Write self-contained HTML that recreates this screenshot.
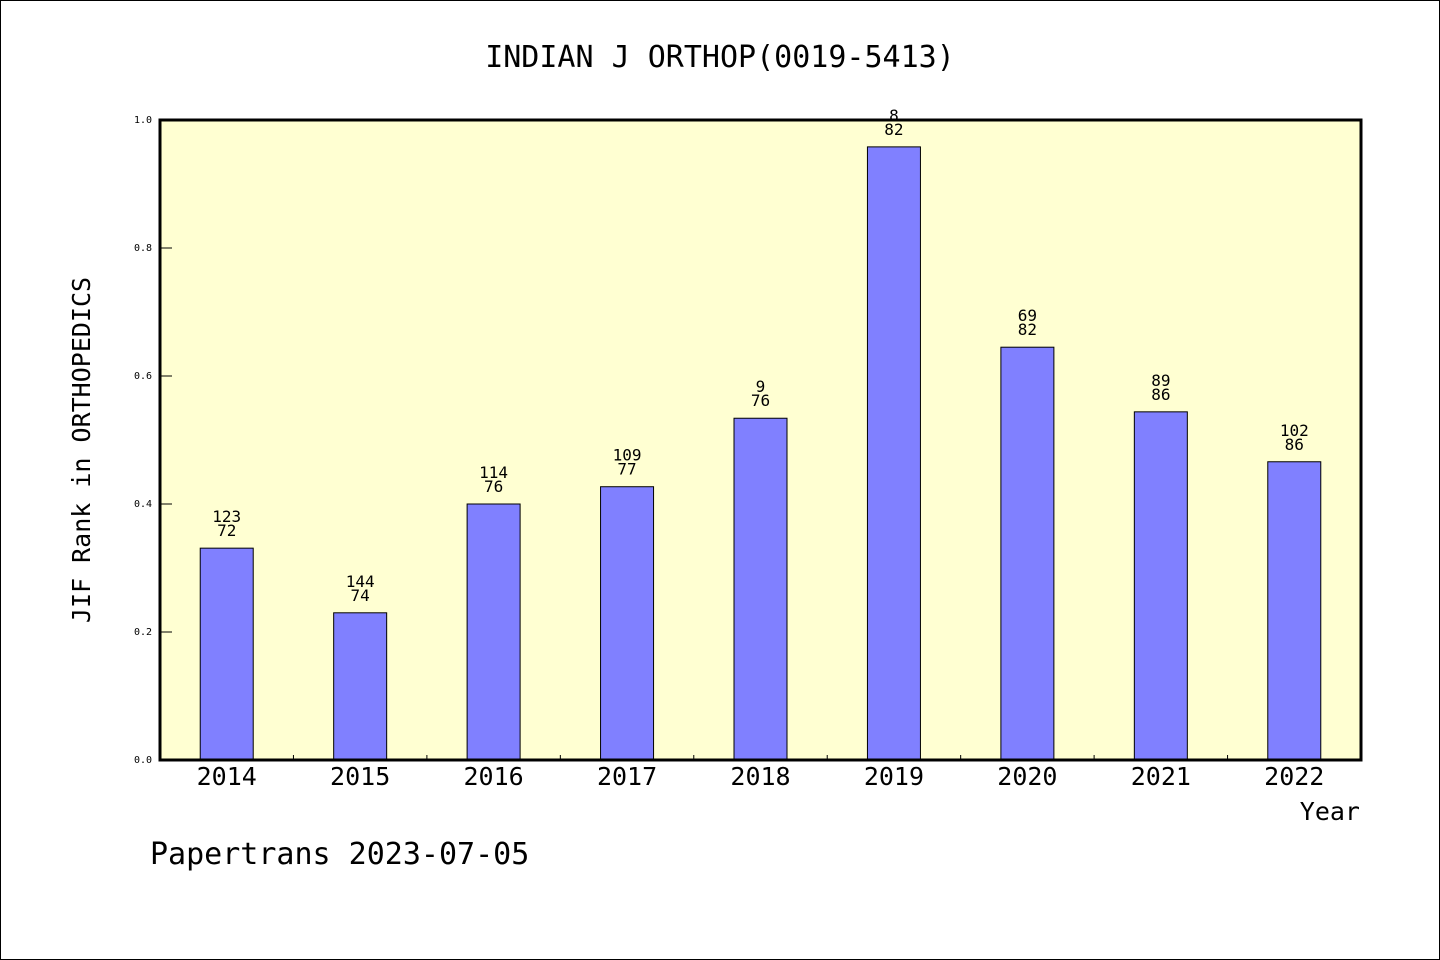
<!DOCTYPE html>
<html><head><meta charset="utf-8"><style>
body{margin:0;background:#fff}
svg{display:block}
text{font-family:"WenQuanYi Zen Hei","DejaVu Sans Mono",monospace;fill:#000}
</style></head><body>
<svg id="chart" width="1440" height="960">
<rect x="0.5" y="0.5" width="1439" height="959" fill="#fff" stroke="#000"/>
<text x="720" y="67" font-size="30" text-anchor="middle">INDIAN J ORTHOP(0019-5413)</text>
<rect x="160" y="120" width="1201" height="640" fill="#ffffd2"/>
<g id="bars"></g>
<g id="ticks"></g>
<rect x="160" y="120" width="1201" height="640" fill="none" stroke="#000" stroke-width="3"/>
<text transform="translate(90,450) rotate(-90)" font-size="25" text-anchor="middle">JIF Rank in ORTHOPEDICS</text>
<text x="1360" y="820" font-size="25" text-anchor="end">Year</text>
<text x="150" y="864" font-size="30">Papertrans 2023-07-05</text>
</svg>
<script>
const categories=["2014","2015","2016","2017","2018","2019","2020","2021","2022"];
const values=[0.331,0.23,0.4,0.427,0.534,0.958,0.645,0.544,0.466];
const topLabels=["123","144","114","109","9","8","69","89","102"];
const bottomLabels=["72","74","76","77","76","82","82","86","86"];
const yTicks=[0,0.2,0.4,0.6,0.8,1.0];
const X0=160,X1=1361,Y0=760,Y1=120;
const band=(X1-X0)/categories.length;
const xc=i=>X0+band*(i+0.5);
const y=v=>Y0-(Y0-Y1)*v;
const NS="http://www.w3.org/2000/svg";
function mk(tag,attrs,parent){const e=document.createElementNS(NS,tag);for(const k in attrs)e.setAttribute(k,attrs[k]);parent.appendChild(e);return e;}
const bars=document.getElementById('bars'),ticks=document.getElementById('ticks');
categories.forEach((c,i)=>{
 const r=mk('rect',{x:xc(i)-26.5,y:y(values[i]),width:53,height:Y0-y(values[i]),fill:'#8080ff',stroke:'#000','stroke-width':1},bars);
 
 
 const t1=mk('text',{x:xc(i),y:y(values[i])-26,'font-size':16,'text-anchor':'middle'},bars);t1.textContent=topLabels[i];
 
 
 const t2=mk('text',{x:xc(i),y:y(values[i])-12,'font-size':16,'text-anchor':'middle'},bars);t2.textContent=bottomLabels[i];
 
 
 const xl=mk('text',{x:xc(i),y:785,'font-size':25,'text-anchor':'middle'},ticks);xl.textContent=c;
 
 
 if(i>0){const l=mk('line',{x1:X0+band*i,x2:X0+band*i,y1:Y0,y2:Y0-5,stroke:'#000'},ticks);
 
 }
});
yTicks.forEach(v=>{
 const l=mk('line',{x1:X0,x2:X0+12,y1:y(v),y2:y(v),stroke:'#000'},ticks);
 
 
 const t=mk('text',{x:X0-8,y:y(v)+3,'font-size':10,'text-anchor':'end'},ticks);t.textContent=v.toFixed(1);
 
 
});
</script>
</body></html>
